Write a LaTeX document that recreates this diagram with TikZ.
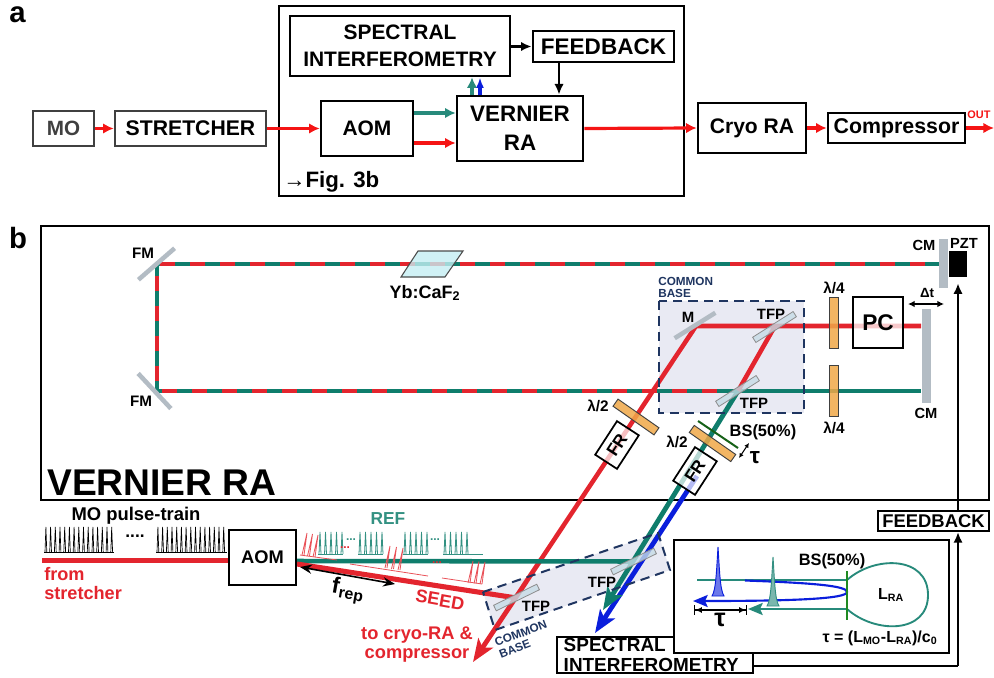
\documentclass[tikz,border=0pt]{standalone}
\usepackage{fontspec}
\setmainfont{Liberation Sans}
\usepackage{xcolor}
\usetikzlibrary{arrows.meta}
\definecolor{beamred}{HTML}{E3252E}
\definecolor{brightred}{HTML}{F51414}
\definecolor{beamteal}{HTML}{0F7D6C}
\definecolor{beamblue}{HTML}{0A1EDC}
\definecolor{basefill}{HTML}{E9EAF3}
\definecolor{basenavy}{HTML}{1F3560}
\definecolor{mirrorgray}{HTML}{B3BCC4}
\definecolor{plateorange}{HTML}{F0A848}
\definecolor{tfpfill}{HTML}{C6DCE6}
\definecolor{xtalfill}{HTML}{C4EEF2}
\definecolor{bsgreen}{HTML}{1F8A22}
\newcommand{\fs}[2]{\fontsize{#1}{#2}\selectfont\bfseries}
\tikzset{
  block/.style  = {draw, line width=2pt, rectangle, inner sep=0pt, align=center, fill=white},
  lbl/.style    = {inner sep=0pt, align=center},
  redsig/.style = {brightred, line width=2.4pt, -{Latex[length=8pt,width=8pt]}},
  grnsig/.style = {beamteal!90!white, line width=2.4pt, -{Latex[length=8pt,width=8pt]}},
  blusig/.style = {beamblue, line width=2.4pt, -{Latex[length=8pt,width=6pt]}},
  ksig/.style   = {black, line width=1.6pt, -{Latex[length=8pt,width=7pt]}},
  beam/.style   = {line width=3.4pt},
  fatarrow/.style = {line width=3.6pt, -{Stealth[length=17pt,width=13pt,inset=4pt]}},
  mirror/.style = {fill=mirrorgray, rectangle, inner sep=0pt, minimum width=36pt, minimum height=3.4pt},
  plate/.style  = {draw=black!75, fill=plateorange, fill opacity=0.85, rectangle, inner sep=0pt, line width=0.7pt},
  tfp/.style    = {draw=black!45, fill=tfpfill, fill opacity=0.8, rectangle, inner sep=0pt,
                   minimum width=36pt, minimum height=4.6pt, line width=0.6pt},
  frbox/.style  = {draw, line width=1.3pt, fill=white, fill opacity=0.7, text opacity=1, rectangle, inner sep=0pt,
                   minimum width=30pt, minimum height=19.5pt, rotate=57, font=\fs{13}{15}},
  basebox/.style = {draw=basenavy, line width=1.5pt, dash pattern=on 7pt off 4.5pt},
  pulse/.style  = {line width=0.5pt},
  refpulse/.style = {line width=0.6pt, beamteal!85!white},
  seedpulse/.style = {line width=0.6pt, beamred!80!white},
}

\begin{document}
\begin{tikzpicture}[x=0.75pt,y=-0.75pt]
\useasboundingbox (0,0) rectangle (994,677);

\node[lbl,anchor=base,font=\fs{22}{24}] (pa) at (17.5,23) {a};
\node[lbl,anchor=base,font=\fs{22}{24}] (pb) at (18,248) {b};

\node[block,draw=black!75,minimum width=45.75pt,minimum height=26.25pt,text=black!75,font=\fs{15.5}{18}] (mo) at (63.5,128.5) {MO};
\node[block,draw=black!75,minimum width=113.25pt,minimum height=26.25pt,font=\fs{15.9}{18}] (stretcher) at (190.5,128.5) {STRETCHER};
\node[block,line width=2.2pt,fill=none,minimum width=303.75pt,minimum height=142.5pt] (figbox) at (481.5,101) {};
\node[block,minimum width=165pt,minimum height=45pt,font=\fs{15.7}{20}] (specint) at (400,46) {SPECTRAL\\INTERFEROMETRY};
\node[block,minimum width=69pt,minimum height=41.25pt,font=\fs{15.7}{18}] (aom) at (367,128.5) {AOM};
\node[block,minimum width=94.5pt,minimum height=48.75pt,font=\fs{16.8}{21.5}] (vra) at (520,128.5) {VERNIER\\RA};
\node[block,minimum width=105.75pt,minimum height=23.25pt,font=\fs{16.9}{18}] (fb) at (603.5,46.5) {FEEDBACK};
\node[block,minimum width=81pt,minimum height=37.5pt,font=\fs{15.8}{18}] (cryo) at (752,128) {Cryo RA};
\node[block,minimum width=102.75pt,minimum height=22.5pt,font=\fs{16}{18}] (comp) at (896.5,128) {Compressor};
\node[lbl,brightred,font=\fs{8.2}{9}] (outlbl) at (979,115) {OUT};
\node[lbl,anchor=west,font=\fs{16.7}{18}] (figlbl) at (283,182) {{\mdseries →}Fig. 3b};
\coordinate (outend) at (994,128);
\coordinate (aomtop) at (400,113);
\coordinate (aombot) at (400,143);
\coordinate (upgrn) at (472,86);
\coordinate (upblu) at (480,86);
\coordinate (fbdrop) at (559,80);

\draw[redsig] (mo) -- (stretcher);
\draw[redsig] (stretcher) -- (aom);
\draw[grnsig] (aomtop -| aom.east) -- (aomtop -| vra.west);
\draw[redsig] (aombot -| aom.east) -- (aombot -| vra.west);
\draw[grnsig] (upgrn |- vra.north) -- (upgrn |- specint.south);
\draw[blusig] (upblu |- vra.north) -- (upblu |- specint.south);
\draw[ksig] (specint.east |- fb.west) -- (fb.west);
\draw[ksig] (fbdrop |- fb.south) -- (fbdrop |- vra.north);
\draw[redsig] (vra.east) -- (cryo.west);
\draw[redsig] (cryo) -- (comp);
\draw[redsig] (comp.east) -- (outend);

\node[draw,line width=1.5pt,minimum width=711pt,minimum height=205.5pt,inner sep=0pt] (frame) at (515,363) {};
\node[lbl,anchor=base west,font=\fs{27.9}{30}] (vralbl) at (47,495) {VERNIER RA};

\fill[basefill] (659,301) rectangle (804,413);
\fill[basefill] (483,592) -- (658,533) -- (670,570) -- (495,630) -- cycle;

\coordinate (cmhi) at (939,264);
\coordinate (fmhi) at (157,264);
\coordinate (fmlo) at (157,391);
\coordinate (tfpb) at (738,391);
\coordinate (cmlo) at (921,391);
\coordinate (cmpc) at (921,326);
\coordinate (mfold) at (696,326);
\coordinate (tfpa) at (775,326);
\coordinate (seedend) at (473,662);
\coordinate (grnend) at (603,610);
\coordinate (bluhi) at (697,476);
\coordinate (bluend) at (595,633);
\coordinate (aomout) at (297,561);
\coordinate (seedout) at (297,564);
\coordinate (tfpd) at (633.5,561.5);
\coordinate (tfpc) at (516.5,598);
\coordinate (instart) at (42,560.5);

\draw[beam,beamteal] (cmhi) -- (fmhi) -- (fmlo) -- (cmlo);
\draw[beam,beamred,dash pattern=on 11.25pt off 11.25pt] (925,264) -- (fmhi) -- (fmlo) -- (722,391);
\draw[beam,beamred] (cmpc) -- (mfold) -- (540.6,560);
\draw[fatarrow,beamred] (540.6,560) -- (seedend);
\draw[beam,beamred] (tfpa) -- (tfpb);
\draw[fatarrow,beamblue] (bluhi) -- (bluend);
\draw[fatarrow,beamteal] (tfpb) -- (grnend);
\draw[beam,beamteal] (aomout) -- (tfpd);
\draw[beam,line width=3.8pt,beamred] (seedout) -- (tfpc);
\draw[beam,beamred] (instart) -- (229,560.5);

\draw[basebox] (659,301) rectangle (804,413);
\draw[basebox] (483,592) -- (658,533) -- (670,570) -- (495,630) -- cycle;

\node[mirror,rotate=41] (fma) at (156.5,264) {};
\node[mirror,rotate=-47] (fmb) at (154.5,391) {};
\node[mirror,rotate=32] (mm) at (695,325.5) {};
\node[tfp,rotate=32.4] (tfpu) at (774.5,327) {};
\node[tfp,rotate=32.4] (tfpl) at (737.5,391) {};
\node[tfp,rotate=26] (tfpx) at (516.5,597.5) {};
\node[tfp,rotate=26] (tfpy) at (633.5,561.5) {};
\node[lbl,font=\fs{11.4}{13}] (lfma) at (143,253) {FM};
\node[lbl,font=\fs{11.4}{13}] (lfmb) at (141,401) {FM};
\node[lbl,font=\fs{11.2}{13}] (lm) at (688,317) {M};
\node[lbl,font=\fs{11.2}{13}] (ltfpu) at (771,314) {TFP};
\node[lbl,font=\fs{11.2}{13}] (ltfpl) at (754,403) {TFP};
\node[lbl,font=\fs{11.2}{13}] (ltfpx) at (536,606) {TFP};
\node[lbl,font=\fs{11.2}{13}] (ltfpy) at (602,582) {TFP};

\filldraw[draw=black!70,fill=xtalfill,fill opacity=0.8,line width=0.8pt] (401,277) -- (418,251) -- (463,251) -- (445,277) -- cycle;
\node[lbl,font=\fs{13.5}{15}] (lxtal) at (425,293) {Yb:CaF\textsubscript{2}};

\node[lbl,basenavy,anchor=north west,align=left,font=\fs{8.8}{9.2}] (lbaseu) at (658,277) {COMMON\\BASE};
\node[lbl,basenavy,align=left,rotate=21,font=\fs{8.8}{9.2}] (lbasel) at (523,639) {COMMON\\BASE};

\node[plate,minimum width=6.75pt,minimum height=38.25pt] (qwa) at (833.5,322.5) {};
\node[plate,minimum width=6.75pt,minimum height=38.25pt] (qwb) at (833.5,391) {};
\node[lbl,font=\fs{11.5}{13}] (lqwa) at (834,288) {λ/4};
\node[lbl,font=\fs{11.5}{13}] (lqwb) at (834,428) {λ/4};
\node[draw,line width=1.5pt,rectangle,inner sep=0pt,fill=white,fill opacity=0.75,text opacity=1,minimum width=37.5pt,minimum height=38.25pt,font=\fs{17}{19}] (pc) at (878,322.5) {PC};
\node[rectangle,fill=mirrorgray,inner sep=0pt,minimum width=6.75pt,minimum height=70.5pt] (cma) at (926.5,356) {};
\node[rectangle,fill=mirrorgray,inner sep=0pt,minimum width=6.75pt,minimum height=36.75pt] (cmb) at (943.5,263.5) {};
\node[rectangle,fill=black,inner sep=0pt,minimum width=13.5pt,minimum height=19.5pt] (pzt) at (958,264) {};
\node[lbl,font=\fs{11}{13}] (lcmb) at (924,245) {CM};
\node[lbl,font=\fs{11}{13}] (lcma) at (926,413) {CM};
\node[lbl,font=\fs{11}{13}] (lpzt) at (964,243) {PZT};
\node[lbl,font=\fs{10}{12}] (ldt) at (927,293) {Δt};
\coordinate (dtl) at (908,304);
\coordinate (dtr) at (944,304);
\draw[black,line width=1pt,{Latex[length=5pt,width=5pt]}-{Latex[length=5pt,width=5pt]}] (dtl) -- (dtr);

\node[plate,rotate=-35,minimum width=37.5pt,minimum height=6.5pt] (hwa) at (636,417) {};
\node[plate,rotate=-35,minimum width=38pt,minimum height=6.5pt] (hwb) at (712.5,443.5) {};
\node[lbl,font=\fs{11.5}{13}] (lhwa) at (598,406) {λ/2};
\node[lbl,font=\fs{11.5}{13}] (lhwb) at (677,442) {λ/2};
\node[frbox] (fra) at (617,445) {FR};
\node[frbox] (frb) at (695,471) {FR};
\coordinate (bsa) at (698,421);
\coordinate (bsb) at (738,448);
\draw[bsgreen!70!black,line width=1.5pt] (bsa) -- (bsb);
\node[lbl,font=\fs{12.3}{14}] (lbs) at (763,432) {BS(50\%)};
\node[lbl,font=\fs{17}{18}] (ltaua) at (755,458) {τ};
\coordinate (taua) at (739,458);
\coordinate (taub) at (749,443);
\draw[black,line width=0.8pt,{Latex[length=3.5pt,width=3.5pt]}-{Latex[length=3.5pt,width=3.5pt]}] (taua) -- (taub);

\node[lbl,font=\fs{13.8}{15}] (lmo) at (136,516) {MO pulse-train};
\draw[pulse] (44,552) -- (114,552);
\draw[pulse] \foreach \i in {45,49.7,...,111} {(\i,552) -- (\i+0.9,527) -- (\i+1.8,552)};
\draw[pulse] (156,552) -- (227,552);
\draw[pulse] \foreach \i in {157,161.7,...,224} {(\i,552) -- (\i+0.9,527) -- (\i+1.8,552)};
\node[lbl,font=\fs{13}{14}] (ldotsk) at (135,536) {....};
\node[block,line width=1.2pt,minimum width=50.25pt,minimum height=41.25pt,font=\fs{13.7}{15}] (aomb) at (262.5,557.5) {AOM};
\node[lbl,beamred,anchor=north west,align=left,font=\fs{13.6}{14}] (lfrom) at (44,567) {from\\stretcher};
\node[lbl,beamteal!85!white,font=\fs{13}{14}] (lref) at (388,519) {REF};

\foreach \xs in {318,358,403,443} {
  \draw[refpulse] (\xs,554) -- (\xs+25,554);
  \draw[refpulse] \foreach \i in {1,6.5,...,23} {(\xs+\i,554) -- (\xs+\i+1,532) -- (\xs+\i+2,554)};
}
\draw[refpulse] (468,554) -- (483,554);
\node[lbl,beamteal!85!white,font=\fs{9}{10}] (ldota) at (351,540) {...};
\node[lbl,beamteal!85!white,font=\fs{9}{10}] (ldotb) at (435,540) {...};

\draw[seedpulse] (300,555) -- (337,560);
\draw[seedpulse] (350,564) -- (428,576);
\draw[seedpulse] (442,578) -- (482,584);
\foreach \bx/\by in {302/555,307.5/556,313/557,385/568,391.5/569,398/570,468/583,474/583.5,480/584} {
  \draw[seedpulse] (\bx,\by) -- (\bx+5,\by-22) -- (\bx+2,\by);
}
\node[lbl,beamred,font=\fs{9}{10}] (ldotc) at (345,548) {...};
\node[lbl,beamred,font=\fs{9}{10}] (ldotd) at (437,563) {...};

\coordinate (frepa) at (300,567);
\coordinate (frepb) at (395,584);
\draw[black,line width=1.2pt,{Stealth[length=9pt,width=7pt]}-{Stealth[length=9pt,width=7pt]}] (frepa) -- (frepb);
\node[lbl,rotate=-10,font=\fs{17}{18}] (lfrep) at (348,591) {f\textsubscript{rep}};
\node[lbl,beamred,rotate=-10,font=\fs{13.5}{15}] (lseed) at (440,600) {SEED};
\node[lbl,beamred,font=\fs{13.7}{14}] (lcryo) at (417,644.5) {to cryo-RA \&\\compressor};

\node[block,anchor=west,line width=1.6pt,inner xsep=5pt,inner ysep=1pt,text width=137pt,align=left,font=\fs{14.2}{14.4}] (specb) at (556,655) {SPECTRAL\\INTERFEROMETRY};
\node[block,line width=1.6pt,minimum width=206pt,minimum height=84.75pt] (inset) at (811.5,596.5) {};
\node[block,line width=1.6pt,minimum width=83.25pt,minimum height=15pt,font=\fs{13.8}{15}] (fbb) at (933.5,521) {FEEDBACK};
\coordinate (fbturn) at (958,666);
\draw[black,line width=1.4pt] (fbturn -| specb.east) -- (fbturn);
\draw[ksig] (fbturn) -- (fbturn |- fbb.south);
\draw[ksig,shorten >=4.5pt] (fbturn |- fbb.north) -- (fbturn |- pzt.south);

\coordinate (insa) at (847,580);
\coordinate (insb) at (847,609);
\coordinate (bsc) at (847,571);
\coordinate (bsd) at (847,620);
\coordinate (refhead) at (697,580);
\coordinate (reftail) at (748,609);
\coordinate (bluhead) at (693,601);
\draw[beamteal!90!white,line width=1.4pt] (refhead) -- (insa) .. controls (875,555) and (928,556) .. (928,595) .. controls (928,634) and (875,634) .. (insb);
\draw[beamblue,line width=1.6pt,-{Stealth[length=11pt,width=9pt,inset=2pt]}] (745,580.5) .. controls (815,583) and (847,586) .. (847,592) .. controls (847,599) and (790,601) .. (bluhead);
\draw[beamteal!90!white,line width=1.8pt,-{Stealth[length=11pt,width=9pt,inset=2pt]}] (insb) -- (reftail);
\draw[bsgreen,line width=2.2pt] (bsc) -- (bsd);
\filldraw[draw=beamblue,fill=beamblue!60!white,line width=0.7pt] (712,596) .. controls (716,590) and (716.5,570) .. (718,547) .. controls (719.5,570) and (720,590) .. (724,596) -- cycle;
\filldraw[draw=beamteal!85!white,fill=beamteal!55!white,line width=0.7pt] (767,606) .. controls (771,600) and (771.5,580) .. (773,557) .. controls (774.5,580) and (775,600) .. (779,606) -- cycle;
\node[lbl,font=\fs{12.3}{14}] (lbsc) at (832,561) {BS(50\%)};
\node[lbl,font=\fs{12}{14}] (llra) at (891,595) {L\textsubscript{RA}};
\node[lbl,font=\fs{12}{14}] (ltaueq) at (880,638) {τ = (L\textsubscript{MO}-L\textsubscript{RA})/c\textsubscript{0}};
\coordinate (dima) at (694,610);
\coordinate (dimb) at (747,610);
\draw[black,line width=0.9pt,{Bar[width=7pt]Latex[length=5pt,width=4.5pt]}-{Latex[length=5pt,width=4.5pt]Bar[width=7pt]}] (dima) -- (dimb);
\node[lbl,font=\fs{19}{20}] (ltaub) at (720,620) {τ};
\end{tikzpicture}
\end{document}
